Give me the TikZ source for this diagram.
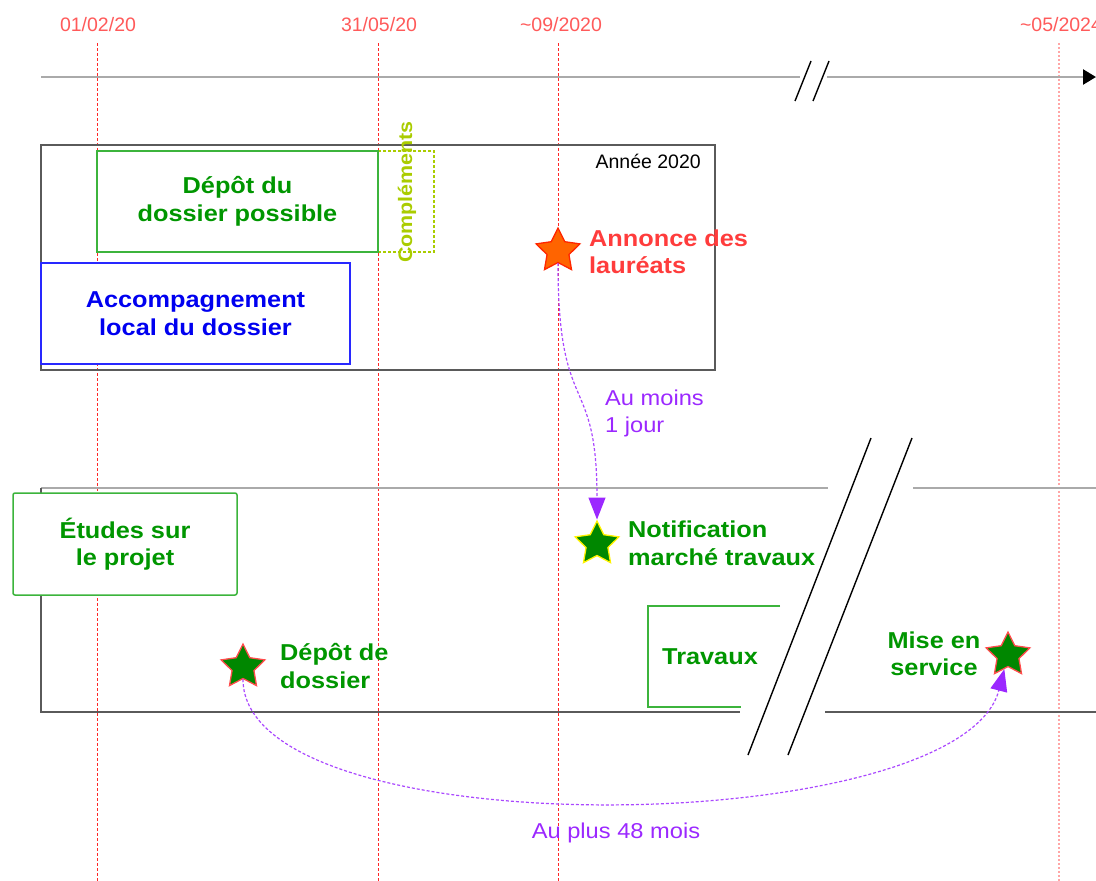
\documentclass[tikz,border=0pt]{standalone}
\usepackage{fontspec}
\setmainfont{Liberation Sans}
\newfontfamily\widefont{Liberation Sans}[FakeStretch=1.1]
\usepackage{tikz}
\usetikzlibrary{shapes.geometric, arrows.meta, positioning, calc}

\definecolor{lblgreen}{RGB}{0,150,0}
\definecolor{boxgreen}{RGB}{60,180,60}
\definecolor{lblblue}{RGB}{0,0,240}
\definecolor{boxblue}{RGB}{40,40,255}
\definecolor{lblred}{RGB}{255,60,60}
\definecolor{datered}{RGB}{255,90,90}
\definecolor{starorange}{RGB}{255,100,0}
\definecolor{stargreen}{RGB}{0,135,0}
\definecolor{delaypurple}{RGB}{155,40,255}
\definecolor{complgreen}{RGB}{170,204,0}
\definecolor{framegray}{RGB}{90,90,90}
\definecolor{axisgray}{RGB}{170,170,170}

\begin{document}
\begin{tikzpicture}[x=1pt, y=-1pt,
    frameline/.style={draw=framegray, line width=1.5pt},
    axisline/.style={draw=axisgray, line width=2.5pt},
    breakline/.style={draw=black, line width=1.4pt},
    datemark/.style={draw=red!85, line width=0.9pt, dash pattern=on 3pt off 2pt},
    datelabel/.style={font=\fontsize{19.5pt}{22pt}\selectfont, text=datered,
      inner sep=0pt},
    phasebox/.style={fill=white, line width=1.5pt, inner sep=0pt},
    phaselabel/.style={font=\widefont\bfseries\fontsize{23pt}{27.5pt}\selectfont,
      text=lblgreen, align=center, inner sep=0pt},
    starmark/.style={star, star points=5, star point ratio=2.0, minimum size=46pt,
      inner sep=0pt, line width=1.3pt},
    delayarc/.style={draw=delaypurple!85, line width=1.2pt,
      dash pattern=on 3pt off 2pt,
      -{Triangle[length=22pt, width=17pt, color=delaypurple]}},
    delaylabel/.style={font=\widefont\fontsize{21.5pt}{27pt}\selectfont,
      text=delaypurple, align=left, inner sep=0pt} ]
    \useasboundingbox (0,0) rectangle (1096,881);

    % Date marks
    \foreach \xx in {97,378,558} \draw[datemark] (\xx,43) -- (\xx,881);
    \draw[draw=red!35, line width=1.6pt, dash pattern=on 2pt off 2pt]
    (1059,43) -- (1059,881);
    \node[datelabel] (d1) at (98,25) {01/02/20}; \node[datelabel] (d2) at
    (379,25) {31/05/20}; \node[datelabel] (d3) at (561,25)
    {\textasciitilde09/2020}; \node[datelabel] (d4) at (1061,25)
    {\textasciitilde05/2024};

    % Time axis with break
    \coordinate (ax0) at (41,77); \coordinate (axcut1) at (800,77);
    \coordinate (axcut2) at (827,77); \coordinate (axend) at (1096,77);
    \draw[axisline] (ax0) -- (axcut1);
    \draw[axisline, -{Triangle[length=13pt, width=15pt, color=black]}]
    (axcut2) -- (axend);
    \draw[breakline] (811,61) -- (795,101); \draw[breakline] (829,61) --
    (813,101);

    % Year 2020 frame
    \draw[frameline] (41,145) rectangle (715,370);
    \node[anchor=east, inner sep=0pt, font=\fontsize{19.5pt}{22pt}\selectfont]
    (annee) at (701,161) {Année 2020};
    \node[draw=complgreen, line width=1.2pt, dash pattern=on 3pt off 2pt,
    minimum width=56pt, minimum height=101pt, inner sep=0pt] (compl) at
    (406,201.5) {};
    \node[phasebox, draw=boxgreen, phaselabel, minimum width=281pt,
    minimum height=101pt] (depotdu) at (237.5,201.5) {Dépôt du\\dossier possible};
    \node[phaselabel, rotate=90, text=complgreen,
    font=\widefont\bfseries\fontsize{19.5pt}{22pt}\selectfont] (compltxt) at
    (407,192) {Compléments};
    \node[phasebox, draw=boxblue, phaselabel, text=lblblue, minimum width=309pt,
    minimum height=101pt] (accomp) at (195.5,313.5)
    {Accompagnement\\local du dossier};
    \node[starmark, fill=starorange, draw=red!70!orange] (annonce) at (558,251) {};
    \node[phaselabel, text=lblred, align=left, anchor=west] (annoncetxt) at
    (589,252) {Annonce des\\lauréats};

    % Project frame with break
    \draw[axisline, line width=2pt] (41,488) -- (828,488);
    \draw[axisline, line width=2pt] (913,488) -- (1096,488);
    \draw[frameline] (41,488) -- (41,712) -- (740,712);
    \draw[frameline] (825,712) -- (1096,712);
    \draw[breakline] (871,438) -- (748,755); \draw[breakline] (912,438) --
    (788,755);
    \node[phasebox, draw=boxgreen, phaselabel, rounded corners=2pt,
    minimum width=224pt, minimum height=102pt] (etudes) at (125,544)
    {Études sur\\le projet};
    \draw[draw=boxgreen, line width=1.5pt] (780,606) -- (648,606) -- (648,707)
    -- (741,707);
    \node[phaselabel, anchor=west] (travaux) at (662,657) {Travaux};

    % Milestones
    \node[starmark, fill=stargreen, draw=yellow] (notif) at (597,544) {};
    \node[phaselabel, align=left, anchor=west] (notiftxt) at (628,543.5)
    {Notification\\marché travaux};
    \node[starmark, fill=stargreen, draw=red!70] (depot) at (243,667) {};
    \node[phaselabel, align=left, anchor=west] (depottxt) at (280,666)
    {Dépôt de\\dossier};
    \node[starmark, fill=stargreen, draw=red!70] (mise) at (1008,655) {};
    \node[phaselabel] (misetxt) at (934,654) {Mise en\\service};

    % Delays
    \draw[delayarc] (annonce) .. controls (558,420) and (597,370) .. (notif);
    \node[delaylabel, anchor=west] (moins) at (605,413.5) {Au moins\\1 jour};
    \draw[delayarc] (depot) .. controls (243,850) and (960,840) .. (mise);
    \node[delaylabel] (plus) at (616,833) {Au plus 48 mois};
\end{tikzpicture}
\end{document}
